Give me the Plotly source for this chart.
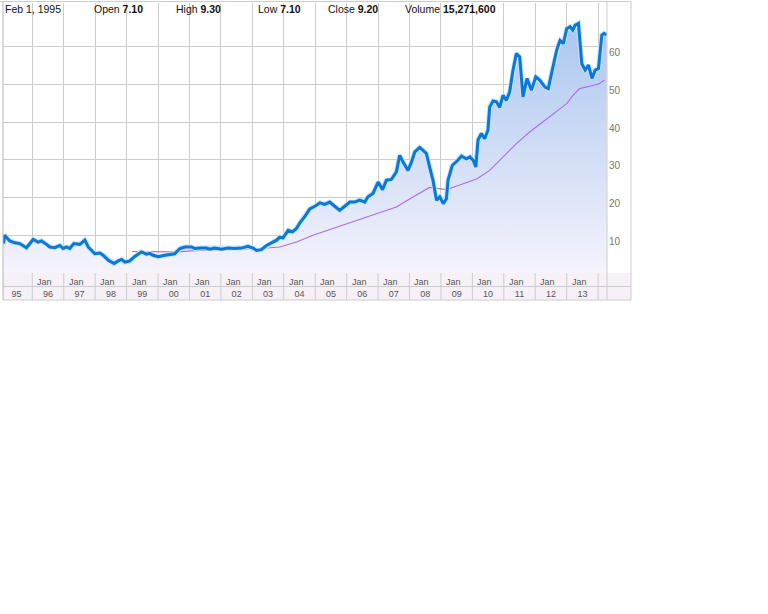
import plotly.graph_objects as go

# ---------------- data ----------------
price_dates = [
    "1995-02-01", "1995-02-14", "1995-03-06", "1995-04-15", "1995-06-12", "1995-08-08", "1995-10-25",
    "1996-01-12", "1996-03-08", "1996-04-17", "1996-06-15", "1996-07-22", "1996-09-20", "1996-11-17", "1996-12-25",
    "1997-02-03", "1997-03-12", "1997-04-28", "1997-07-06", "1997-09-03", "1997-10-12", "1997-11-20", "1997-12-28",
    "1998-02-25", "1998-04-03", "1998-06-01", "1998-08-10", "1998-09-25", "1998-11-04", "1998-12-12",
    "1999-02-08", "1999-04-06", "1999-06-23", "1999-08-21", "1999-09-28", "1999-11-05",
    "2000-01-05", "2000-03-20", "2000-05-15", "2000-07-12", "2000-09-12", "2000-11-10",
    "2001-01-25", "2001-03-04", "2001-05-18", "2001-07-16", "2001-08-25", "2001-10-22",
    "2002-01-10", "2002-03-25", "2002-06-12", "2002-08-28", "2002-11-12",
    "2003-01-10", "2003-02-18", "2003-04-16", "2003-06-15", "2003-08-12", "2003-10-10", "2003-11-16", "2003-12-24",
    "2004-02-22", "2004-04-12", "2004-05-28", "2004-07-06", "2004-09-03", "2004-10-30", "2004-12-28",
    "2005-02-25", "2005-04-22", "2005-06-18", "2005-08-15", "2005-10-12", "2005-12-10",
    "2006-02-06", "2006-04-05", "2006-06-02", "2006-07-30", "2006-09-06", "2006-11-03",
    "2007-01-02", "2007-02-22", "2007-04-08", "2007-06-05", "2007-08-02", "2007-09-09", "2007-10-18", "2007-12-15",
    "2008-01-24", "2008-03-03", "2008-04-28", "2008-06-06", "2008-07-15", "2008-08-22", "2008-09-30", "2008-11-10", "2008-12-18",
    "2009-01-27", "2009-03-05", "2009-03-24", "2009-05-12", "2009-07-16", "2009-08-27", "2009-10-24", "2009-12-03",
    "2010-01-10", "2010-02-10", "2010-03-07", "2010-04-15", "2010-05-24", "2010-07-01", "2010-07-21", "2010-08-29",
    "2010-10-07", "2010-11-14", "2010-12-23",
    "2011-01-31", "2011-03-10", "2011-04-18", "2011-05-27", "2011-07-04", "2011-08-12", "2011-09-28", "2011-11-18",
    "2012-01-08", "2012-02-24", "2012-04-23", "2012-06-01", "2012-07-10", "2012-09-06", "2012-10-15", "2012-11-23",
    "2013-01-01", "2013-02-09", "2013-03-12", "2013-04-08", "2013-05-17", "2013-06-25", "2013-08-03", "2013-09-11",
    "2013-10-21", "2013-11-28",
    "2014-01-05", "2014-02-13", "2014-03-10", "2014-04-10",
]
price_values = [
    7.8, 10.0, 9.5, 8.5, 8.0, 7.8, 6.7,
    8.9, 8.2, 8.5, 7.6, 6.9, 6.7, 7.3, 6.5,
    6.9, 6.5, 7.8, 7.6, 8.7, 6.9, 6.0, 5.1,
    5.3, 4.7, 3.4, 2.5, 3.2, 3.6, 2.9,
    3.2, 4.4, 5.6, 5.0, 5.2, 4.7,
    4.3, 4.7, 4.9, 5.1, 6.5, 6.9,
    6.9, 6.5, 6.6, 6.6, 6.3, 6.6,
    6.3, 6.6, 6.5, 6.6, 7.1,
    6.6, 6.0, 6.2, 7.3, 8.0, 8.7, 9.5, 9.3,
    11.3, 10.9, 11.8, 13.3, 15.0, 17.0, 17.7,
    18.6, 18.2, 18.8, 17.7, 16.6, 17.7,
    18.8, 18.8, 19.3, 18.8, 20.2, 21.1,
    24.1, 22.1, 24.6, 24.8, 26.8, 31.2, 29.4, 27.2,
    29.4, 32.1, 33.3, 32.5, 31.7, 28.1, 24.6, 19.3, 20.2,
    18.4, 19.7, 24.6, 28.5, 29.9, 31.0, 30.3, 30.8,
    29.9, 28.1, 35.2, 37.0, 35.6, 37.9, 44.0, 45.6,
    45.4, 43.9, 47.1,
    45.8, 48.0, 53.8, 58.2, 57.3, 46.7, 51.6, 48.5,
    52.0, 51.1, 49.3, 48.9, 53.3, 59.1, 61.7, 60.8,
    64.8, 65.3, 64.4, 65.7, 66.2, 55.5, 53.8, 55.1,
    51.6, 53.8,
    54.2, 63.1, 63.5, 63.1,
]

ma_dates = [
    "1999-03-05", "1999-09-28", "2000-08-05", "2001-04-25", "2002-05-15", "2003-04-05", "2003-11-16",
    "2004-05-28", "2004-12-05", "2005-10-12", "2006-07-15", "2007-01-15", "2007-08-02", "2008-02-15",
    "2008-08-22", "2009-03-05", "2009-08-05", "2010-02-25", "2010-07-21", "2010-12-23", "2011-05-27",
    "2011-10-28", "2012-03-30", "2012-09-06", "2013-01-01", "2013-03-15", "2013-05-30", "2013-09-25",
    "2014-01-05", "2014-03-15",
]
ma_values = [
    5.7, 5.6, 5.6, 6.0, 6.3, 6.5, 6.9,
    8.2, 10.0, 12.4, 14.4, 15.9, 17.5, 20.2,
    22.7, 22.1, 23.3, 25.0, 27.2, 30.8, 34.3,
    37.4, 40.1, 42.7, 44.9, 47.1, 48.9, 49.5,
    50.1, 51.1,
]

y_tick_values = [10, 20, 30, 40, 50, 60]
jan_years = list(range(1996, 2014))
grid_years = list(range(1996, 2015))

header_date = "Feb 1, 1995"
header_labels = ["Open", "High", "Low", "Close", "Volume"]
header_values = ["7.10", "9.30", "7.10", "9.20", "15,271,600"]

# ---------------- geometry helpers (pixel -> paper) ----------------
PL, PR, PT, PB = 3, 607, 3, 273
def px(x):
    return (x - PL) / (PR - PL)
def py(y):
    return (PB - y) / (PB - PT)

GRID = "#cccccc"
FONT = "Liberation Sans, Arial, sans-serif"

fig = go.Figure()

# gradient area under the price line
fig.add_trace(go.Scatter(
    x=price_dates, y=price_values, mode="lines", fill="tozeroy",
    line=dict(width=0, color="rgba(0,0,0,0)"),
    fillgradient=dict(type="vertical", start=0, stop=70,
                      colorscale=[[0, "#f5f3fc"], [1, "#a6c4ee"]]),
    hoverinfo="skip",
))
# moving average
fig.add_trace(go.Scatter(
    x=ma_dates, y=ma_values, mode="lines",
    line=dict(width=1.1, color="#a86ee6"), hoverinfo="skip",
))
# light halo under price line
fig.add_trace(go.Scatter(
    x=price_dates, y=price_values, mode="lines",
    line=dict(width=5, color="#c2e3f8"), hoverinfo="skip",
))
# price line
fig.add_trace(go.Scatter(
    x=price_dates, y=price_values, mode="lines",
    line=dict(width=3, color="#0a78d4"),
))

shapes = []
# bottom date band
shapes.append(dict(type="rect", xref="paper", yref="paper", x0=0, x1=px(631), y0=py(300), y1=0,
                   fillcolor="#f6f1f6", line=dict(width=0), layer="below"))
# horizontal lines of the band / frame
for yy in (286.5, 300):
    shapes.append(dict(type="line", xref="paper", yref="paper", x0=0, x1=px(631), y0=py(yy), y1=py(yy),
                       line=dict(color=GRID, width=1)))
shapes.append(dict(type="line", xref="paper", yref="paper", x0=px(0), x1=px(631), y0=py(1.5), y1=py(1.5),
                   line=dict(color=GRID, width=1)))
shapes.append(dict(type="line", xref="paper", yref="paper", x0=1, x1=1, y0=py(300), y1=py(1.5),
                   line=dict(color=GRID, width=1)))
shapes.append(dict(type="line", xref="paper", yref="paper", x0=px(631), x1=px(631), y0=py(300), y1=py(1.5),
                   line=dict(color=GRID, width=1)))
shapes.append(dict(type="line", xref="paper", yref="paper", x0=0, x1=0, y0=py(300), y1=py(1.5),
                   line=dict(color="#b4b4b4", width=1)))
# year separators inside the date band
for yr in grid_years:
    shapes.append(dict(type="line", xref="x", yref="paper", x0=f"{yr}-01-01", x1=f"{yr}-01-01",
                       y0=py(300), y1=0, line=dict(color=GRID, width=1)))

annotations = []
for yr in jan_years:
    annotations.append(dict(x=f"{yr}-01-01", xref="x", y=py(282), yref="paper", text="Jan",
                            showarrow=False, xanchor="left", yanchor="middle", xshift=3,
                            font=dict(family=FONT, size=9, color="#555555")))

annotations.append(dict(x=px(3), xref="paper", y=py(9.5), yref="paper", text=header_date,
                        showarrow=False, xanchor="left", yanchor="middle",
                        font=dict(family=FONT, size=10.5, color="#111111")))
label_x = [92, 174, 255.5, 326, 403]
for lab, val, lx in zip(header_labels, header_values, label_x):
    annotations.append(dict(x=px(lx), xref="paper", y=py(9.5), yref="paper", text=f"{lab} <b>{val}</b>",
                            showarrow=False, xanchor="left", yanchor="middle",
                            font=dict(family=FONT, size=10.5, color="#111111")))

fig.update_layout(
    width=768, height=614,
    margin=dict(l=PL, r=768 - PR, t=PT, b=614 - PB, pad=0, autoexpand=False),
    paper_bgcolor="white", plot_bgcolor="white",
    showlegend=False,
    shapes=shapes, annotations=annotations,
    xaxis=dict(
        type="date", range=["1995-01-26", "2014-04-14"], automargin=False,
        tick0="1995-01-01", dtick="M12", ticklabelmode="period", tickformat="%y",
        showgrid=True, gridcolor=GRID, gridwidth=1, zeroline=False, showline=False,
        ticks="", ticklabelstandoff=14,
        tickfont=dict(family=FONT, size=9, color="#555555"),
    ),
    yaxis=dict(
        range=[0, 71.6], side="right", tickvals=y_tick_values, automargin=False,
        showgrid=True, gridcolor=GRID, gridwidth=1, zeroline=False, showline=False,
        ticks="", ticklabelstandoff=1, ticklabelshift=6,
        tickfont=dict(family=FONT, size=10, color="#7a7868"),
    ),
)

fig.write_html("out.html", config={"displayModeBar": False},
               post_script="document.body.style.margin='0px';")
